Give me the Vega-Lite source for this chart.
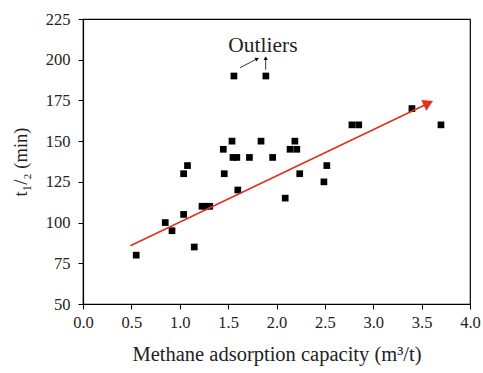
{
  "$schema": "https://vega.github.io/schema/vega-lite/v6.json",
  "width": 387,
  "height": 285,
  "autosize": {"type": "none"},
  "padding": {"left": 83, "top": 19, "right": 13, "bottom": 69},
  "background": "white",
  "config": {
    "view": {"stroke": "black", "strokeWidth": 1.2},
    "font": "Liberation Serif",
    "axis": {
      "grid": false,
      "domainColor": "black",
      "domainWidth": 1.2,
      "tickColor": "black",
      "tickWidth": 1,
      "labelFont": "Liberation Serif",
      "labelFontSize": 16.5,
      "labelColor": "#222",
      "titleFont": "Liberation Serif",
      "titleFontWeight": "normal",
      "titleColor": "#222"
    }
  },
  "datasets": {
    "samples": [
      {"capacity": 0.55, "t_half": 80},
      {"capacity": 0.85, "t_half": 100},
      {"capacity": 0.92, "t_half": 95},
      {"capacity": 1.04, "t_half": 105},
      {"capacity": 1.04, "t_half": 130},
      {"capacity": 1.08, "t_half": 135},
      {"capacity": 1.15, "t_half": 85},
      {"capacity": 1.23, "t_half": 110},
      {"capacity": 1.27, "t_half": 110},
      {"capacity": 1.31, "t_half": 110},
      {"capacity": 1.45, "t_half": 145},
      {"capacity": 1.46, "t_half": 130},
      {"capacity": 1.54, "t_half": 150},
      {"capacity": 1.55, "t_half": 140},
      {"capacity": 1.59, "t_half": 140},
      {"capacity": 1.6, "t_half": 120},
      {"capacity": 1.56, "t_half": 190},
      {"capacity": 1.89, "t_half": 190},
      {"capacity": 1.72, "t_half": 140},
      {"capacity": 1.84, "t_half": 150},
      {"capacity": 1.96, "t_half": 140},
      {"capacity": 2.09, "t_half": 115},
      {"capacity": 2.14, "t_half": 145},
      {"capacity": 2.19, "t_half": 150},
      {"capacity": 2.21, "t_half": 145},
      {"capacity": 2.24, "t_half": 130},
      {"capacity": 2.49, "t_half": 125},
      {"capacity": 2.52, "t_half": 135},
      {"capacity": 2.78, "t_half": 160},
      {"capacity": 2.85, "t_half": 160},
      {"capacity": 3.4, "t_half": 170},
      {"capacity": 3.7, "t_half": 160}
    ],
    "trend": [
      {"capacity": 0.49, "t_half": 85.8},
      {"capacity": 3.56, "t_half": 173.0}
    ],
    "trend_head": [
      {"capacity": 3.57, "t_half": 173.3, "angle": 334.6}
    ],
    "callouts": [
      {"x1": 1.623, "y1": 195.1, "x2": 1.812, "y2": 200.9},
      {"x1": 1.888, "y1": 193.9, "x2": 1.888, "y2": 201.7}
    ],
    "callout_heads": [
      {"capacity": 1.80, "t_half": 200.5, "angle": 333},
      {"capacity": 1.888, "t_half": 200.9, "angle": 270}
    ],
    "notes": [
      {"capacity": 1.86, "t_half": 205, "label": "Outliers"}
    ]
  },
  "layer": [
    {
      "data": {"name": "samples"},
      "mark": {"type": "point", "shape": "square", "filled": true, "color": "black", "opacity": 1, "size": 45},
      "encoding": {
        "x": {
          "field": "capacity",
          "type": "quantitative",
          "scale": {"domain": [0, 4], "nice": false, "zero": false},
          "axis": {
            "title": "Methane adsorption capacity (m³/t)",
            "titleFontSize": 20.5,
            "values": [0, 0.25, 0.5, 0.75, 1, 1.25, 1.5, 1.75, 2, 2.25, 2.5, 2.75, 3, 3.25, 3.5, 3.75, 4],
            "labelExpr": "datum.value % 0.5 === 0 ? format(datum.value, '.1f') : ''",
            "tickSize": {"condition": {"test": "datum.value % 0.5 !== 0", "value": 3}, "value": 5},
            "labelPadding": 5,
            "labelFlush": false,
            "labelOverlap": false,
            "titlePadding": 14
          }
        },
        "y": {
          "field": "t_half",
          "type": "quantitative",
          "scale": {"domain": [50, 225], "nice": false, "zero": false},
          "axis": {
            "title": "t₁/₂ (min)",
            "titleFontSize": 18.5,
            "values": [50, 62.5, 75, 87.5, 100, 112.5, 125, 137.5, 150, 162.5, 175, 187.5, 200, 212.5, 225],
            "labelExpr": "datum.value % 25 === 0 ? format(datum.value, 'd') : ''",
            "tickSize": {"condition": {"test": "datum.value % 25 !== 0", "value": 3}, "value": 5},
            "labelPadding": 8,
            "labelFlush": false,
            "labelOverlap": false,
            "titlePadding": 15
          }
        }
      }
    },
    {
      "data": {"name": "trend"},
      "mark": {"type": "line", "color": "#e0301e", "strokeWidth": 1.6},
      "encoding": {
        "x": {"field": "capacity", "type": "quantitative"},
        "y": {"field": "t_half", "type": "quantitative"}
      }
    },
    {
      "data": {"name": "trend_head"},
      "mark": {"type": "point", "shape": "triangle-right", "filled": true, "color": "#e0301e", "opacity": 1, "size": 140},
      "encoding": {
        "x": {"field": "capacity", "type": "quantitative"},
        "y": {"field": "t_half", "type": "quantitative"},
        "angle": {"field": "angle", "type": "quantitative", "scale": null}
      }
    },
    {
      "data": {"name": "callouts"},
      "mark": {"type": "rule", "color": "black", "strokeWidth": 0.8},
      "encoding": {
        "x": {"field": "x1", "type": "quantitative"},
        "y": {"field": "y1", "type": "quantitative"},
        "x2": {"field": "x2"},
        "y2": {"field": "y2"}
      }
    },
    {
      "data": {"name": "callout_heads"},
      "mark": {"type": "point", "shape": "triangle-right", "filled": true, "color": "black", "opacity": 1, "size": 18},
      "encoding": {
        "x": {"field": "capacity", "type": "quantitative"},
        "y": {"field": "t_half", "type": "quantitative"},
        "angle": {"field": "angle", "type": "quantitative", "scale": null}
      }
    },
    {
      "data": {"name": "notes"},
      "mark": {"type": "text", "font": "Liberation Serif", "fontSize": 21.5, "color": "#222", "align": "center", "baseline": "alphabetic"},
      "encoding": {
        "x": {"field": "capacity", "type": "quantitative"},
        "y": {"field": "t_half", "type": "quantitative"},
        "text": {"field": "label"}
      }
    }
  ]
}
